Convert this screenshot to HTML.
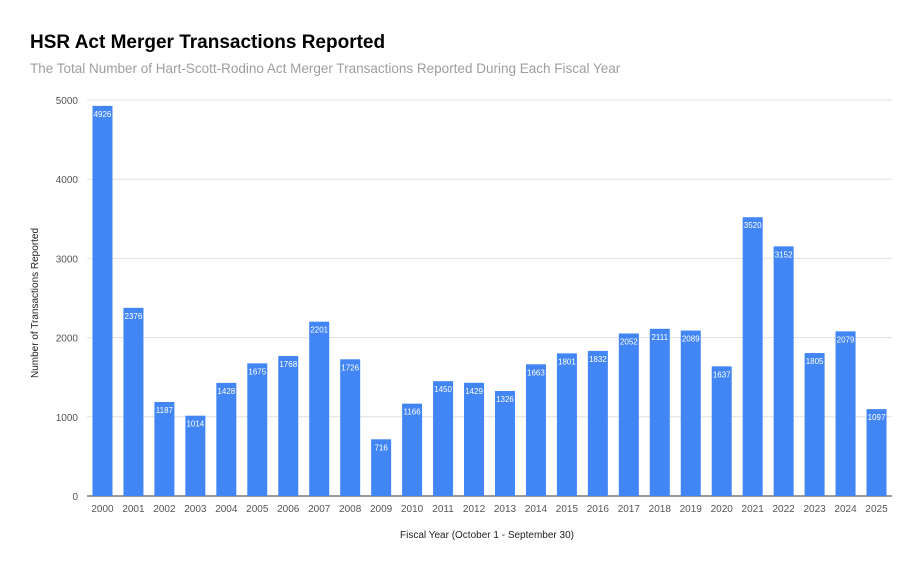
<!DOCTYPE html>
<html><head><meta charset="utf-8"><style>
body{margin:0;background:#fff;font-family:"Liberation Sans",sans-serif;}
</style></head><body>
<svg id="chart" width="920" height="568" xmlns="http://www.w3.org/2000/svg">
<rect width="920" height="568" fill="#fff"/>
<text x="30" y="48" font-size="19" font-weight="bold" fill="#000">HSR Act Merger Transactions Reported</text>
<text x="30" y="73" font-size="13.5" fill="#9e9e9e">The Total Number of Hart-Scott-Rodino Act Merger Transactions Reported During Each Fiscal Year</text>
<g id="grid"></g><g id="bars"></g><g id="xlabels"></g>
<text x="487" y="538" font-size="10" fill="#222" text-anchor="middle">Fiscal Year (October 1 - September 30)</text>
<text transform="translate(38,303) rotate(-90)" font-size="10" fill="#222" text-anchor="middle">Number of Transactions Reported</text>
</svg>
<script>
const categories=["2000","2001","2002","2003","2004","2005","2006","2007","2008","2009","2010","2011","2012","2013","2014","2015","2016","2017","2018","2019","2020","2021","2022","2023","2024","2025"];
const values=[4926,2376,1187,1014,1428,1675,1768,2201,1726,716,1166,1450,1429,1326,1663,1801,1832,2052,2111,2089,1637,3520,3152,1805,2079,1097];
const yTicks=[0,1000,2000,3000,4000,5000];
const NS="http://www.w3.org/2000/svg";
const x0=87,x1=892,y0=496,y1=100,yMax=5000;
const y=v=>y0-(v/yMax)*(y0-y1);
const step=(x1-x0)/categories.length;
const xc=i=>x0+step*(i+0.5);
function mk(t,a,p){const e=document.createElementNS(NS,t);for(const k in a)e.setAttribute(k,a[k]);p.appendChild(e);return e;}
const grid=document.getElementById('grid'),bars=document.getElementById('bars'),xl=document.getElementById('xlabels');
yTicks.forEach(t=>{
 const l=mk('line',{x1:x0,x2:x1,y1:y(t),y2:y(t),stroke:t===0?'#333':'#e0e0e0','stroke-width':1},grid);
 
 
 const tx=mk('text',{x:78,y:y(t)+4,'font-size':10,fill:'#555','text-anchor':'end'},grid);
 tx.textContent=t;
 
 
});
categories.forEach((c,i)=>{
 const bw=20,v=values[i];
 const r=mk('rect',{x:xc(i)-bw/2,y:y(v),width:bw,height:y(0)-y(v),fill:'#4285f4'},bars);
 
 
 const lb=mk('text',{x:xc(i),y:y(v)+11,'font-size':8,fill:'#fff','text-anchor':'middle'},bars);
 lb.textContent=v;
 
 
 const xt=mk('text',{x:xc(i),y:512,'font-size':10,fill:'#555','text-anchor':'middle'},xl);
 xt.textContent=c;
 
 
});
</script>
</body></html>
